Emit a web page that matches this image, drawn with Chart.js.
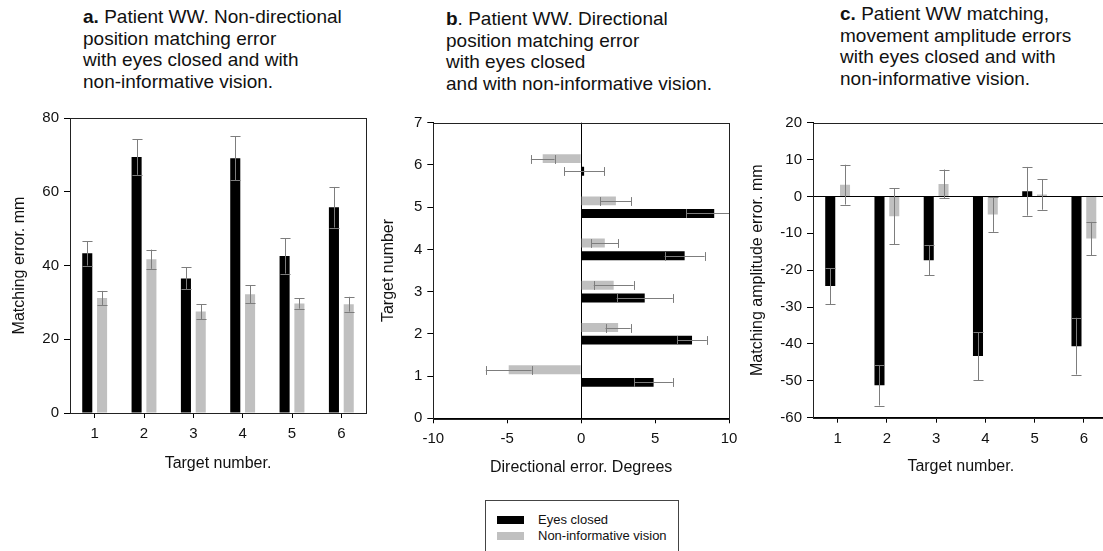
<!DOCTYPE html>
<html>
<head>
<meta charset="utf-8">
<script src="https://cdn.jsdelivr.net/npm/chart.js@4"></script>
<style>
  html, body { margin: 0; padding: 0; background: #fff; }
  body { width: 1103px; height: 551px; overflow: hidden; position: relative; font-family: "Liberation Sans", Arial, sans-serif; color: #111; }
  .title { position: absolute; font-size: 19px; line-height: 21.7px; white-space: nowrap; }
  .panel { position: absolute; top: 100px; }
  .legend { position: absolute; left: 485px; top: 500px; width: 194px; height: 70px; border: 1px solid #444; box-sizing: border-box; font-size: 13px; }
  .legend .row { position: absolute; left: 11px; height: 14px; line-height: 14px; }
  .legend .sw { display: inline-block; width: 27px; height: 8px; vertical-align: middle; margin-right: 14px; position: relative; top: -1px; }
</style>
</head>
<body>

<div class="title" style="left:83px; top:6px;"><b>a.</b> Patient WW. Non-directional<br>position matching error<br>with eyes closed and with<br>non-informative vision.</div>
<div class="title" style="left:446px; top:8px;"><b>b</b>. Patient WW. Directional<br>position matching error<br>with eyes closed<br>and with non-informative vision.</div>
<div class="title" style="left:840px; top:3px;"><b>c.</b> Patient WW matching,<br>movement amplitude errors<br>with eyes closed and with<br>non-informative vision.</div>

<canvas class="panel" id="chartA" width="380" height="380" style="left:0px;"></canvas>
<canvas class="panel" id="chartB" width="380" height="380" style="left:370px;"></canvas>
<canvas class="panel" id="chartC" width="380" height="380" style="left:740px;"></canvas>

<div class="legend">
  <div class="row" style="top:12px;"><span class="sw" style="background:#000;"></span>Eyes closed</div>
  <div class="row" style="top:28px;"><span class="sw" style="background:#c0c0c0;"></span>Non-informative vision</div>
</div>

<script>
// target numbers
const targets = ['1', '2', '3', '4', '5', '6'];
const targetNums = [1, 2, 3, 4, 5, 6];

// a. non-directional matching error (mm)
const nonDirEyes = [43.3, 69.4, 36.5, 69.1, 42.6, 55.8];
const nonDirEyesErr = [3.3, 4.8, 3.0, 6.0, 4.8, 5.5];
const nonDirVision = [31.2, 41.7, 27.5, 32.2, 29.7, 29.5];
const nonDirVisionErr = [1.9, 2.6, 2.0, 2.5, 1.4, 2.0];

// b. directional error (degrees)
const dirEyes = [4.9, 7.5, 4.3, 7.0, 9.0, 0.2];
const dirEyesErr = [1.3, 1.0, 1.9, 1.35, 1.9, 1.35];
const dirVision = [-4.9, 2.5, 2.2, 1.6, 2.35, -2.6];
const dirVisionErr = [1.55, 0.85, 1.35, 0.9, 1.05, 0.8];

// c. movement amplitude error (mm)
const ampEyes = [-24.3, -51.2, -17.3, -43.3, 1.4, -40.6];
const ampEyesErr = [4.9, 5.5, 4.0, 6.5, 6.6, 7.7];
const ampVision = [3.2, -5.4, 3.4, -4.9, 0.5, -11.4];
const ampVisionErr = [5.4, 7.6, 3.9, 4.7, 4.1, 4.5];

const BLACK = '#000000';
const GREY = '#c0c0c0';

Chart.defaults.font.family = '"Liberation Sans", Arial, sans-serif';
Chart.defaults.color = '#111';
Chart.defaults.animation = false;

// draws +/- error bars from dataset.errors through the value scale
const errorBars = {
    id: 'errorBars',
    afterDatasetsDraw(chart) {
        const ctx = chart.ctx;
        const area = chart.chartArea;
        const horiz = chart.options.indexAxis === 'y';
        const valScale = horiz ? chart.scales.x : chart.scales.y;
        ctx.save();
        ctx.beginPath();
        ctx.rect(area.left, area.top, area.right - area.left, area.bottom - area.top);
        ctx.clip();
        ctx.strokeStyle = '#7d7d7d';
        ctx.lineWidth = 1;
        chart.data.datasets.forEach((ds, i) => {
            const meta = chart.getDatasetMeta(i);
            meta.data.forEach((bar, j) => {
                const raw = ds.data[j];
                const v = horiz ? raw.x : raw;
                const e = ds.errors[j];
                const p1 = valScale.getPixelForValue(v - e);
                const p2 = valScale.getPixelForValue(v + e);
                const half = (horiz ? bar.height : bar.width) / 2;
                const c = Math.round(horiz ? bar.y : bar.x) + 0.5;
                ctx.beginPath();
                if (horiz) {
                    ctx.moveTo(p1, c); ctx.lineTo(p2, c);
                    ctx.moveTo(Math.round(p1) + 0.5, c - half); ctx.lineTo(Math.round(p1) + 0.5, c + half);
                    ctx.moveTo(Math.round(p2) + 0.5, c - half); ctx.lineTo(Math.round(p2) + 0.5, c + half);
                } else {
                    ctx.moveTo(c, p1); ctx.lineTo(c, p2);
                    ctx.moveTo(c - half, Math.round(p1) + 0.5); ctx.lineTo(c + half, Math.round(p1) + 0.5);
                    ctx.moveTo(c - half, Math.round(p2) + 0.5); ctx.lineTo(c + half, Math.round(p2) + 0.5);
                }
                ctx.stroke();
            });
        });
        ctx.restore();
    }
};

// box round the plot area
const frame = {
    id: 'frame',
    afterDraw(chart) {
        const {ctx, chartArea: a} = chart;
        ctx.save();
        ctx.strokeStyle = '#222';
        ctx.lineWidth = 1;
        ctx.strokeRect(Math.round(a.left) + 0.5, Math.round(a.top) + 0.5, Math.round(a.right - a.left), Math.round(a.bottom - a.top));
        ctx.restore();
    }
};

const tickFont = {size: 15};
const titleFont = {size: 16};

function zeroLine(ctx) {
    return ctx.tick && ctx.tick.value === 0 ? '#000' : 'rgba(0,0,0,0)';
}

function verticalPanel(id, eyes, eyesErr, vision, visionErr, yOpts, yWidth, yPad, xPad, padRight, padTop, zero) {
    return new Chart(document.getElementById(id), {
        type: 'bar',
        data: {
            labels: targets,
            datasets: [
                {label: 'Eyes closed', data: eyes, errors: eyesErr, backgroundColor: BLACK, borderWidth: 0, categoryPercentage: 0.6, barPercentage: 0.68},
                {label: 'Non-informative vision', data: vision, errors: visionErr, backgroundColor: GREY, borderWidth: 0, categoryPercentage: 0.6, barPercentage: 0.68}
            ]
        },
        options: {
            responsive: false,
            layout: {padding: {left: 0, top: padTop, right: padRight, bottom: 0}},
            plugins: {legend: {display: false}, tooltip: {enabled: false}},
            scales: {
                x: {
                    grid: {offset: false, drawOnChartArea: false, tickLength: 5, color: '#000'},
                    border: {color: '#000'},
                    ticks: {font: tickFont, color: '#111', padding: 7, maxRotation: 0},
                    title: {display: true, text: 'Target number.', font: titleFont, color: '#111', padding: {top: 0, bottom: xPad}},
                    afterFit: s => { s.height = 380 - padTop - 295; }
                },
                y: Object.assign({
                    grid: zero ? {color: zeroLine, tickColor: '#000', tickLength: 6} : {drawOnChartArea: false, tickLength: 6, color: '#000'},
                    border: {color: '#000'},
                    ticks: {font: tickFont, color: '#111', padding: 5},
                    afterFit: s => { s.width = yWidth; }
                }, yOpts, {title: {display: true, text: yOpts.titleText, font: titleFont, color: '#111', padding: {top: yPad, bottom: 0}}})
            }
        },
        plugins: [errorBars, frame]
    });
}

// a.
verticalPanel('chartA', nonDirEyes, nonDirEyesErr, nonDirVision, nonDirVisionErr,
    {min: 0, max: 80, ticks: {stepSize: 20, font: tickFont, color: '#111', padding: 5}, titleText: 'Matching error. mm'},
    70, 10.4, 6.7, 14, 18, false);

// c.
verticalPanel('chartC', ampEyes, ampEyesErr, ampVision, ampVisionErr,
    {min: -60, max: 20, ticks: {stepSize: 10, font: tickFont, color: '#111', padding: 5}, titleText: 'Matching amplitude error. mm'},
    73, 7.6, 3.7, 11.5, 22.7, true);

// b. horizontal bars on a linear target axis
new Chart(document.getElementById('chartB'), {
    type: 'bar',
    data: {
        datasets: [
            {label: 'Non-informative vision', data: targetNums.map((t, i) => ({x: dirVision[i], y: t})), errors: dirVisionErr, backgroundColor: GREY, borderWidth: 0, categoryPercentage: 0.6, barPercentage: 0.7},
            {label: 'Eyes closed', data: targetNums.map((t, i) => ({x: dirEyes[i], y: t})), errors: dirEyesErr, backgroundColor: BLACK, borderWidth: 0, categoryPercentage: 0.6, barPercentage: 0.7}
        ]
    },
    options: {
        responsive: false,
        indexAxis: 'y',
        layout: {padding: {left: 0, top: 22.7, right: 21, bottom: 0}},
        plugins: {legend: {display: false}, tooltip: {enabled: false}},
        scales: {
            x: {
                type: 'linear', min: -10, max: 10,
                grid: {color: zeroLine, tickColor: '#000', tickLength: 5},
                border: {color: '#000'},
                ticks: {stepSize: 5, font: tickFont, color: '#111', padding: 7, maxRotation: 0},
                title: {display: true, text: 'Directional error. Degrees', font: titleFont, color: '#111', padding: {top: 0, bottom: 2.9}},
                afterFit: s => { s.height = 380 - 318.3; }
            },
            y: {
                type: 'linear', min: 0, max: 7, offset: false,
                grid: {offset: false, drawOnChartArea: false, tickLength: 6, color: '#000'},
                border: {color: '#000'},
                ticks: {stepSize: 1, font: tickFont, color: '#111', padding: 5},
                title: {display: true, text: 'Target number', font: titleFont, color: '#111', padding: {top: 9, bottom: 0}},
                afterFit: s => { s.width = 63.3; }
            }
        }
    },
    plugins: [errorBars, frame]
});
</script>
</body>
</html>
